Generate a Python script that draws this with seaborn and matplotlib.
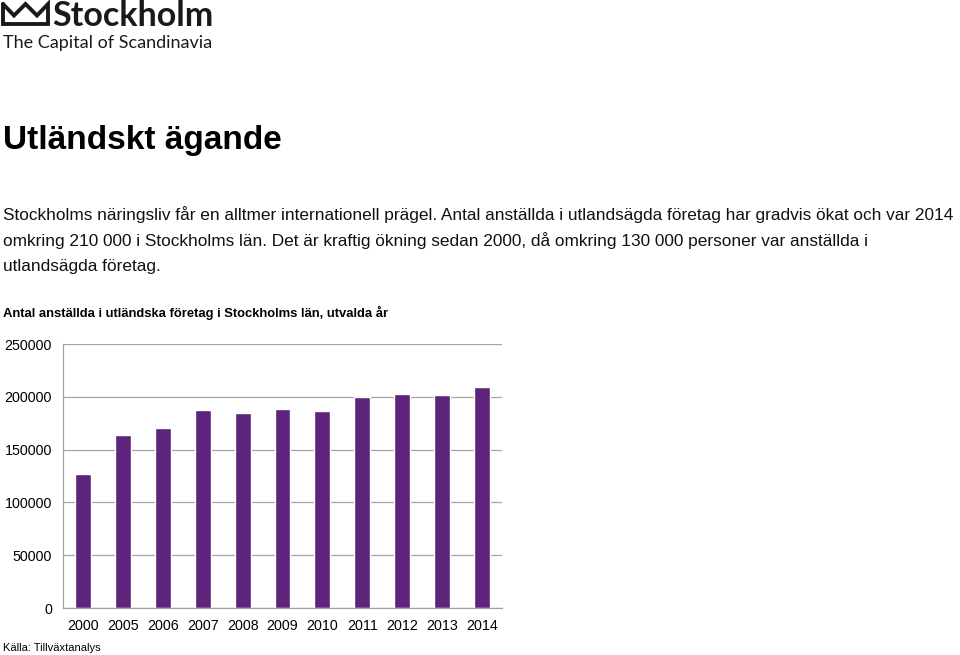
import seaborn as sns
import matplotlib.pyplot as plt
import pandas as pd
from matplotlib.lines import Line2D

# data
years = ['2000', '2005', '2006', '2007', '2008', '2009', '2010', '2011', '2012', '2013', '2014']
employees = [126600, 163700, 170600, 187700, 185100, 188900, 186100, 199400, 202500, 201600, 209200]
y_ticks = [0, 50000, 100000, 150000, 200000, 250000]

page_title = 'Utländskt ägande'
body_lines = [
    'Stockholms näringsliv får en alltmer internationell prägel. Antal anställda i utlandsägda företag har gradvis ökat och var 2014',
    'omkring 210 000 i Stockholms län. Det är kraftig ökning sedan 2000, då omkring 130 000 personer var anställda i',
    'utlandsägda företag.',
]
chart_title = 'Antal anställda i utländska företag i Stockholms län, utvalda år'
source = 'Källa: Tillväxtanalys'

sns.set_theme(style='white')
plt.rcParams['font.family'] = ['Liberation Sans', 'DejaVu Sans']
plt.rcParams['text.color'] = 'black'
plt.rcParams['xtick.color'] = 'black'
plt.rcParams['ytick.color'] = 'black'

W, H = 960, 655
fig = plt.figure(figsize=(W / 100, H / 100), dpi=100)

def fx(px):
    return px / W

def fy(py):
    return 1 - py / H

# --- logo ---
crown = [(3, 4), (3, 24), (48, 24), (48, 4), (37, 15.5), (25.5, 4), (14, 15.5), (3, 4)]
fig.add_artist(Line2D([fx(p[0]) for p in crown], [fy(p[1]) for p in crown],
                      color='#1a1a1a', lw=2.8, solid_joinstyle='miter'))
fig.text(fx(52), fy(15.5), 'Stockholm', fontsize=24.5, fontweight='bold', color='#1a1a1a',
         va='center', ha='left', family=['Lato', 'DejaVu Sans'])
fig.text(fx(3), fy(43), 'The Capital of Scandinavia', fontsize=13, color='#1a1a1a',
         va='center', ha='left', family=['Lato', 'DejaVu Sans'])

# --- texts ---
fig.text(fx(3), fy(141), page_title, fontsize=24, fontweight='bold', va='center', ha='left')
for i, line in enumerate(body_lines):
    fig.text(fx(3), fy(215 + i * 26), line, fontsize=12.4, va='center', ha='left', color='#111111')
fig.text(fx(3), fy(313), chart_title, fontsize=9.4, fontweight='bold', va='center', ha='left')
fig.text(fx(3), fy(648), source, fontsize=8, va='center', ha='left')

# --- chart ---
ax = fig.add_axes([fx(63), fy(608), fx(502) - fx(63), (608 - 344) / H])
df = pd.DataFrame({'year': years, 'employees': employees})
sns.barplot(data=df, x='year', y='employees', color='#5E237B', saturation=1,
            width=0.4, ax=ax)
ax.set_ylim(0, 250000)
ax.set_xlim(-0.5, len(years) - 0.5)
ax.set_yticks(y_ticks)
ax.set_yticklabels([str(t) for t in y_ticks], fontsize=10.3)
ax.set_xticks(range(len(years)))
ax.set_xticklabels(years, fontsize=10.3)
ax.set_xticks([i - 0.5 for i in range(len(years) + 1)], minor=True)
ax.tick_params(axis='x', which='major', length=0, pad=8)
ax.tick_params(axis='x', which='minor', length=4, color='#a0a0a0', width=0.9, direction='out')
ax.tick_params(axis='y', length=3, color='#a0a0a0', width=0.9, pad=5)
ax.set_xlabel('')
ax.set_ylabel('')
ax.yaxis.grid(True, color='#a6a6a6', lw=0.9)
ax.set_axisbelow(True)
for s in ['top', 'right']:
    ax.spines[s].set_visible(False)
for s in ['left', 'bottom']:
    ax.spines[s].set_color('#a0a0a0')
    ax.spines[s].set_linewidth(0.9)

fig.savefig('out.png', dpi=100)
